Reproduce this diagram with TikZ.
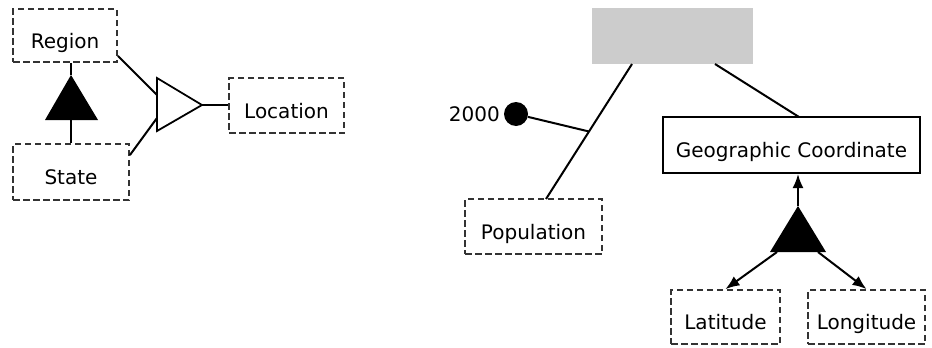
\documentclass[tikz,border=0pt]{standalone}
\usepackage{fontspec}
\setmainfont{DejaVu Sans}
\usetikzlibrary{calc,arrows.meta}
\begin{document}
\begin{tikzpicture}[x=1pt,y=-1pt,
  txt/.style={font=\fontsize{20}{24}\selectfont},
  ent/.style={txt, text height=30pt, text depth=5pt, draw=black!80, dash pattern=on 6.5pt off 3.5pt, line width=1.8pt, inner sep=0pt},
  solidbox/.style={txt, text height=30pt, text depth=5pt, draw=black, line width=2pt, inner sep=0pt},
  conn/.style={line width=2pt},
  arr/.style={line width=2pt, -{Latex[length=14pt,width=11pt]}},
  lbl/.style={txt, inner sep=0pt}]
\useasboundingbox (0,0) rectangle (932,348);
% left part
\node[ent, minimum width=104pt, minimum height=53pt] (region) at (65,35.5) {Region};
\node[ent, minimum width=116pt, minimum height=56pt] (state) at (71,172) {State};
\node[ent, minimum width=115pt, minimum height=55pt] (location) at (286.5,105.5) {Location};
% black triangle (left)
\coordinate (ta) at (71,75);
\coordinate (tl) at (45,120);
\coordinate (tr) at (98,120);
\coordinate (tb) at (71,120);
\fill (ta) -- (tr) -- (tl) -- cycle;
\draw[conn] (ta) -- (ta |- region.south);
\draw[conn] (tb) -- (tb |- state.north);
% white triangle
\coordinate (wt) at (157,78);
\coordinate (wb) at (157,131);
\coordinate (wa) at (202,105);
\draw[line width=1.8pt, line join=miter] (wt) -- (wa) -- (wb) -- cycle;
\draw[conn] (wa) -- (location.west |- wa);
\draw[conn] (region.south east) ++(0,-7) -- (157,95);
\draw[conn] (state.north east) ++(0,12) -- (157,118);
% right part
\node[fill=black!20, minimum width=161pt, minimum height=56pt, inner sep=0pt] (gray) at (672.5,36) {};
\node[ent, minimum width=137pt, minimum height=55pt] (pop) at (533.5,226.5) {Population};
\node[solidbox, minimum width=257pt, minimum height=56pt] (geo) at (791.5,145) {Geographic Coordinate};
\node[ent, minimum width=109pt, minimum height=54pt] (lat) at (725.5,317) {Latitude};
\node[ent, minimum width=117pt, minimum height=54pt] (lon) at (866.5,317) {Longitude};
% gray to population
\coordinate (g1) at (632,64);
\coordinate (p1) at (546,199);
\draw[conn] (g1) -- (p1);
\coordinate (mid) at ($(g1)!0.5!(p1)$);
\node[circle, fill=black, minimum size=24pt, inner sep=0pt] (dot) at (516,114) {};
\node[lbl, anchor=base east] (yr) at (500,121) {2000};
\draw[conn] (dot) -- (mid);
% gray to geo
\coordinate (g2) at (715,64);
\coordinate (ge) at (799,117);
\draw[conn] (g2) -- (ge);
% black triangle (right)
\coordinate (ra) at (798,206);
\coordinate (rl) at (770,252);
\coordinate (rr) at (826,252);
\fill (ra) -- (rr) -- (rl) -- cycle;
\draw[arr] (ra) -- (ra |- geo.south);
\draw[arr] (777,252) -- (lat.north);
\draw[arr] (818,252) -- (lon.north);
\end{tikzpicture}
\end{document}
